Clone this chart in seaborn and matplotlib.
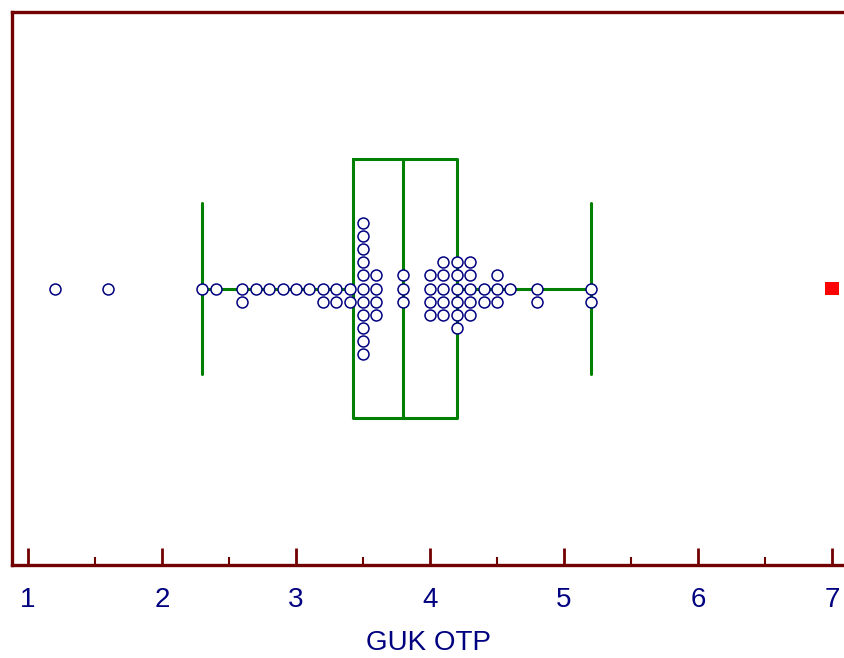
import numpy as np
import pandas as pd
import matplotlib
matplotlib.use("Agg")
import matplotlib.pyplot as plt
from matplotlib.ticker import MultipleLocator
import seaborn as sns

guk_values = [1.2, 1.6, 2.3, 2.4, 2.6, 2.7, 2.8, 2.9, 3.0, 3.1, 3.2, 3.3, 3.4,
              3.5, 3.6, 3.8, 4.0, 4.1, 4.2, 4.3, 4.4, 4.5, 4.6, 4.8, 5.2]
guk_counts = [1, 1, 1, 1, 2, 1, 1, 1, 1, 1, 2, 2, 2,
              11, 4, 3, 4, 5, 6, 5, 2, 3, 1, 2, 2]
far_outliers = [7.0]

dots = pd.DataFrame({"GUK OTP": np.repeat(guk_values, guk_counts)})
far = pd.DataFrame({"GUK OTP": far_outliers, "pos": [0] * len(far_outliers)})
all_vals = pd.concat([dots, far[["GUK OTP"]]], ignore_index=True)

sns.set_style("white")
plt.rcParams["font.family"] = ["Liberation Sans", "DejaVu Sans"]

axis_red = "#720000"
navy = "#000080"
green = "#008000"

fig = plt.figure(figsize=(8.44, 6.58), dpi=100)
ax = fig.add_axes([12 / 844, 1 - 565 / 658, 832 / 844, 553 / 658])

# Box and whiskers from all values
sns.boxplot(data=all_vals, x="GUK OTP", ax=ax, fill=False, color=green,
            linewidth=2.2, width=0.47, showfliers=False, whis=1.5,
            capwidths=0.31)

# Individual observations
sns.swarmplot(data=dots, x="GUK OTP", ax=ax, size=7.9, color="white",
              edgecolor=navy, linewidth=1.1, zorder=3)

# Far outlier as red square
sns.scatterplot(data=far, x="GUK OTP", y="pos", ax=ax, marker="s", s=100,
                color="red", edgecolor="none", zorder=4)

ax.set_xlim(0.881, 7.09)
ax.set_ylim(0.5, -0.5)
ax.set_yticks([])
ax.set_ylabel("")
ax.set_xlabel("GUK OTP", fontsize=20, color=navy, labelpad=12)

ax.xaxis.set_major_locator(MultipleLocator(1))
ax.xaxis.set_minor_locator(MultipleLocator(0.5))
ax.tick_params(axis="x", which="major", direction="in", length=12, width=2,
               color=axis_red, labelsize=20, labelcolor=navy, pad=16,
               bottom=True)
ax.tick_params(axis="x", which="minor", direction="in", length=6, width=1.5,
               color=axis_red, bottom=True)

for side in ["left", "top", "bottom"]:
    ax.spines[side].set_color(axis_red)
    ax.spines[side].set_linewidth(2.4)
    ax.spines[side].set_visible(True)
ax.spines["right"].set_visible(False)

fig.savefig("out.png", dpi=100)
